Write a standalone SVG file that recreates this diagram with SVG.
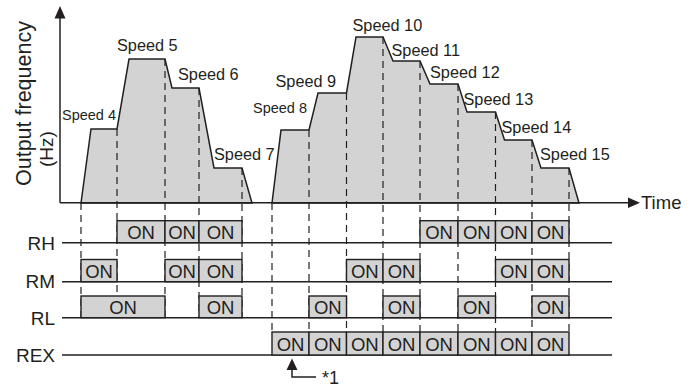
<svg xmlns="http://www.w3.org/2000/svg" width="690" height="387" viewBox="0 0 690 387">
<style>
text{font-family:"Liberation Sans",Arial,sans-serif;fill:#231f20}
.sp{font-size:16.3px}
.sp2{font-size:14.5px}
.lab{font-size:19px;text-anchor:end}
.on{font-size:18.5px;text-anchor:middle}
.prof{fill:#d3d3d4;stroke:#231f20;stroke-width:1.5;stroke-linejoin:miter}
.box{fill:#d3d3d4;stroke:#231f20;stroke-width:1.4}
.dash{stroke:#231f20;stroke-width:1.2;stroke-dasharray:7 5;fill:none}
.line{stroke:#231f20;stroke-width:1.5;fill:none}
.head{fill:#231f20}
</style>
<rect width="690" height="387" fill="#ffffff"/>
<g id="profile">
<polygon class="prof" points="81,203 91,129 117,129 129,59 165,59 172,88 199,88 214,168 242,168 252,203"/>
<polygon class="prof" points="272,203 281,130 309,130 318,93 346.5,93 356,37 383,37 393,61 420,61 430,84 458,84 467,112 495.5,112 504.5,140 532,140 541,168 569,168 579,203"/>
</g>
<g id="connectors">
<line class="dash" x1="81" y1="203" x2="81" y2="318"/>
<line class="dash" x1="117" y1="129" x2="117" y2="318"/>
<line class="dash" x1="165" y1="59" x2="165" y2="318"/>
<line class="dash" x1="199" y1="88" x2="199" y2="318"/>
<line class="dash" x1="242" y1="168" x2="242" y2="318"/>
<line class="dash" x1="272" y1="203" x2="272" y2="332"/>
<line class="dash" x1="309" y1="130" x2="309" y2="332"/>
<line class="dash" x1="346.5" y1="93" x2="346.5" y2="332"/>
<line class="dash" x1="383" y1="37" x2="383" y2="332"/>
<line class="dash" x1="420" y1="61" x2="420" y2="332"/>
<line class="dash" x1="458" y1="84" x2="458" y2="332"/>
<line class="dash" x1="495.5" y1="112" x2="495.5" y2="332"/>
<line class="dash" x1="532" y1="140" x2="532" y2="332"/>
<line class="dash" x1="569" y1="168" x2="569" y2="332"/>
<line class="line" x1="60" y1="18" x2="60" y2="202.7"/>
<polygon class="head" points="60,6 54.5,18.5 65.5,18.5"/>
<line class="line" x1="60" y1="202.7" x2="629" y2="202.7"/>
<polygon class="head" points="628,197.5 640,202.7 628,208"/>
<line class="line" x1="62" y1="242.7" x2="612" y2="242.7"/>
<line class="line" x1="62" y1="281.7" x2="612" y2="281.7"/>
<line class="line" x1="62" y1="317.7" x2="612" y2="317.7"/>
<line class="line" x1="62" y1="355" x2="612" y2="355"/>
<polyline class="line" points="292,369 292,377 316,377"/>
<polygon class="head" points="292,358.5 286.5,370 297.5,370"/>
</g>
<g id="axis-labels">
<text transform="translate(31,186) rotate(-90)" style="font-size:21.5px">Output frequency</text>
<text transform="translate(52.5,167) rotate(-90)" style="font-size:19px">(Hz)</text>
<text x="641" y="209" style="font-size:18.5px">Time</text>
</g>
<g id="speed-labels">
<text class="sp2" x="62" y="120">Speed 4</text>
<text class="sp" x="117" y="51">Speed 5</text>
<text class="sp" x="178" y="80">Speed 6</text>
<text class="sp" x="214" y="159.5">Speed 7</text>
<text class="sp2" x="253" y="113">Speed 8</text>
<text class="sp" x="275.5" y="87">Speed 9</text>
<text class="sp" x="352.5" y="31">Speed 10</text>
<text class="sp" x="391.5" y="56">Speed 11</text>
<text class="sp" x="430" y="78">Speed 12</text>
<text class="sp" x="463.5" y="105">Speed 13</text>
<text class="sp" x="501.5" y="133">Speed 14</text>
<text class="sp" x="540" y="160">Speed 15</text>
</g>
<g id="RH">
<text class="lab" x="55" y="249.5">RH</text>
<rect class="box" x="117" y="220.7" width="48" height="22"/><text class="on" x="141" y="239.3">ON</text>
<rect class="box" x="165" y="220.7" width="34" height="22"/><text class="on" x="182" y="239.3">ON</text>
<rect class="box" x="199" y="220.7" width="43" height="22"/><text class="on" x="220.5" y="239.3">ON</text>
<rect class="box" x="420" y="220.7" width="38" height="22"/><text class="on" x="439" y="239.3">ON</text>
<rect class="box" x="458" y="220.7" width="37.5" height="22"/><text class="on" x="476.8" y="239.3">ON</text>
<rect class="box" x="495.5" y="220.7" width="36.5" height="22"/><text class="on" x="513.8" y="239.3">ON</text>
<rect class="box" x="532" y="220.7" width="37" height="22"/><text class="on" x="550.5" y="239.3">ON</text>
</g>
<g id="RM">
<text class="lab" x="55" y="288">RM</text>
<rect class="box" x="81" y="259.5" width="36" height="22.2"/><text class="on" x="99" y="278">ON</text>
<rect class="box" x="165" y="259.5" width="34" height="22.2"/><text class="on" x="182" y="278">ON</text>
<rect class="box" x="199" y="259.5" width="43" height="22.2"/><text class="on" x="220.5" y="278">ON</text>
<rect class="box" x="346.5" y="259.5" width="36.5" height="22.2"/><text class="on" x="364.8" y="278">ON</text>
<rect class="box" x="383" y="259.5" width="37" height="22.2"/><text class="on" x="401.5" y="278">ON</text>
<rect class="box" x="495.5" y="259.5" width="36.5" height="22.2"/><text class="on" x="513.8" y="278">ON</text>
<rect class="box" x="532" y="259.5" width="37" height="22.2"/><text class="on" x="550.5" y="278">ON</text>
</g>
<g id="RL">
<text class="lab" x="55" y="324.5">RL</text>
<rect class="box" x="81" y="296" width="84" height="21.7"/><text class="on" x="123" y="314">ON</text>
<rect class="box" x="199" y="296" width="43" height="21.7"/><text class="on" x="220.5" y="314">ON</text>
<rect class="box" x="309" y="296" width="37.5" height="21.7"/><text class="on" x="327.8" y="314">ON</text>
<rect class="box" x="383" y="296" width="37" height="21.7"/><text class="on" x="401.5" y="314">ON</text>
<rect class="box" x="458" y="296" width="37.5" height="21.7"/><text class="on" x="476.8" y="314">ON</text>
<rect class="box" x="532" y="296" width="37" height="21.7"/><text class="on" x="550.5" y="314">ON</text>
</g>
<g id="REX">
<text class="lab" x="55" y="362">REX</text>
<rect class="box" x="272" y="332" width="37" height="23"/><text class="on" x="290.5" y="350.5">ON</text>
<rect class="box" x="309" y="332" width="37.5" height="23"/><text class="on" x="327.8" y="350.5">ON</text>
<rect class="box" x="346.5" y="332" width="36.5" height="23"/><text class="on" x="364.8" y="350.5">ON</text>
<rect class="box" x="383" y="332" width="37" height="23"/><text class="on" x="401.5" y="350.5">ON</text>
<rect class="box" x="420" y="332" width="38" height="23"/><text class="on" x="439" y="350.5">ON</text>
<rect class="box" x="458" y="332" width="37.5" height="23"/><text class="on" x="476.8" y="350.5">ON</text>
<rect class="box" x="495.5" y="332" width="36.5" height="23"/><text class="on" x="513.8" y="350.5">ON</text>
<rect class="box" x="532" y="332" width="37" height="23"/><text class="on" x="550.5" y="350.5">ON</text>
</g>
<g id="note">
<text x="322" y="384" style="font-size:18px">*1</text>
</g>
</svg>
